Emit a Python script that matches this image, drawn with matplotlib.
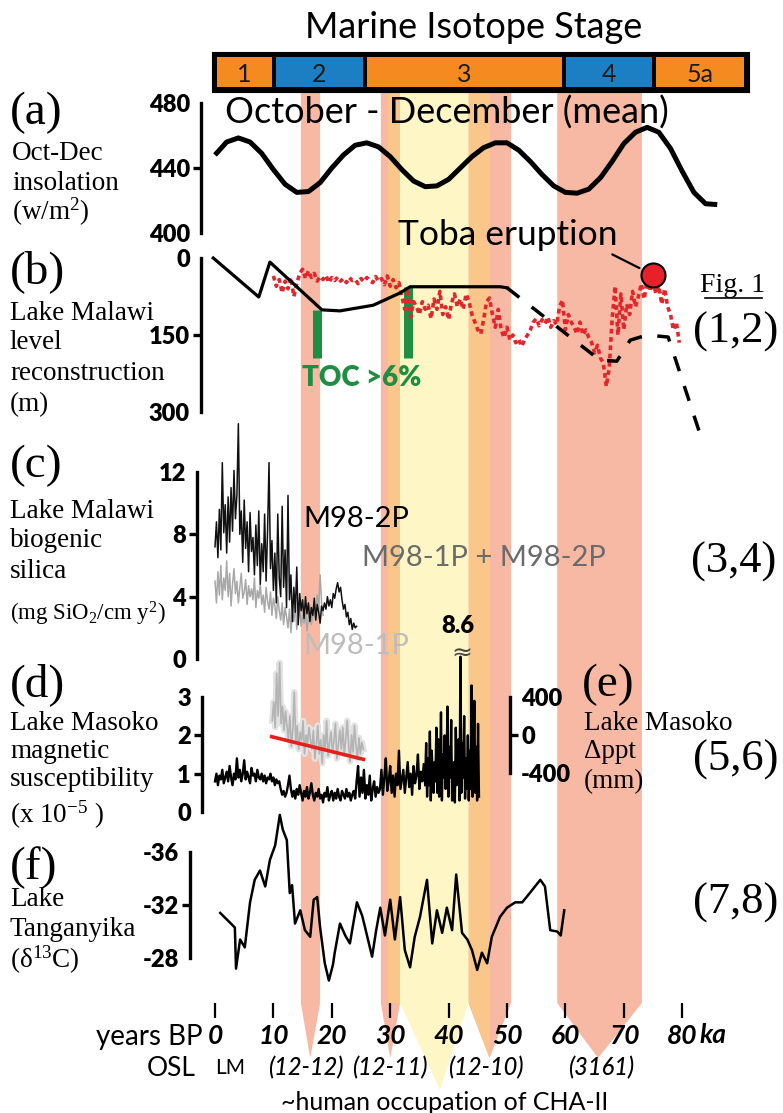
import matplotlib
matplotlib.use("Agg")
import matplotlib.pyplot as plt
from matplotlib.patches import Polygon
from matplotlib.lines import Line2D
import numpy as np

W, H = 783, 1113
PX0, PXK = 215.0, 5.84          # pixel of 0 ka and pixels per ka
XLIM = (-PX0 / PXK, (W - PX0) / PXK)
SANS = "Lato"
SERIF = "Liberation Serif"
plt.rcParams["font.family"] = SANS
plt.rcParams["mathtext.fontset"] = "custom"
plt.rcParams["mathtext.rm"] = SERIF
plt.rcParams["mathtext.it"] = SERIF + ":italic"

# ---------------- data ----------------
mis_edges = [0, 10.1, 25.7, 59.8, 75.2, 91.0]
mis_names = ["1", "2", "3", "4", "5a"]
mis_colors = ["#F58A20", "#1C7FC4", "#F58A20", "#1C7FC4", "#F58A20"]

# shaded bands (ka): left, right, tip position
band_pink = [(14.7, 18.0, 16.3), (28.4, 31.7, 30.0), (43.4, 50.7, 47.0), (58.6, 73.1, 65.6)]
band_orange = [(29.6, 31.7, None), (43.4, 47.1, 47.0)]
band_yellow = [(31.7, 43.4, 38.5)]

# (a) Oct-Dec insolation
insol_ka = [0, 2, 4, 6, 8, 10, 12, 14, 16, 18, 20, 22, 24, 26, 28, 30, 32, 34, 36, 38, 40, 42,
            44, 46, 48, 50, 52, 54, 56, 58, 60, 62, 64, 66, 68, 70, 72, 74, 76, 78, 80, 82, 84, 86]
insol = [448, 456, 458.5, 456, 449, 439, 430, 425, 425.5, 431, 440, 448, 454, 455.5, 453, 447,
         439, 432, 428.5, 429, 433, 440, 447, 452.5, 455.5, 455.5, 451, 444, 436, 429, 425,
         424.5, 427, 434, 444, 455, 462, 465, 462, 452, 438, 425, 418, 417.5]

# (b) Lake Malawi level (m)
lvl_ka = [-0.3, 7.5, 9.4, 18.3, 21.4, 27.1, 31.7, 33.4, 48.8, 50.0]
lvl_m = [0, 76, 8, 101, 103, 92, 68, 56, 56, 58]
lvl2_ka = [50.0, 65.9, 68.8, 71.1, 74.0, 77.6, 83.0]
lvl2_m = [58, 199, 201, 160, 150, 154, 341]
red_m = [35, 55, 42, 68, 45, 60, 38, 75, 50, 30,
         22, 40, 25, 38, 30, 45, 36, 42, 34, 48, 38, 44, 37,
         45, 40, 48, 38, 44, 42, 50, 40, 46, 38, 44, 48, 36, 45,
         40, 52, 35, 55, 42, 58, 48,
         75, 100, 60, 115, 85,
         95, 110, 85, 100, 92, 118,
         80, 100, 65, 110, 95, 120, 88, 70,
         95, 80, 100, 70,
         85, 110, 125, 140, 148, 120,
         85, 78, 110, 135, 100,
         140, 155, 135, 160, 150,
         165, 158, 172, 160, 150, 140,
         125, 118, 132, 120, 128, 115, 135, 122, 130,
         95, 82, 140, 110, 125,
         135, 148, 125, 150, 140, 155,
         165, 185, 170, 195, 205,
         250, 215, 120,
         55, 150, 70, 140, 90,
         110, 65, 95, 75,
         50, 80, 40, 65, 45,
         70, 55, 90, 60, 95,
         110, 140, 125, 165]
red_ka0, red_ka1 = 10.0, 79.5
toba_ka, toba_m = 75.0, 33
toc_ka = [17.55, 33.0]
toc_top = [101, 56]
toc_bottom = 195

# (c) biogenic silica
bsi2 = [7.2, 8.8, 6.5, 9.6, 7.0, 12.6, 8.1,
        9.9, 6.8, 10.4, 7.5, 11.0, 8.2, 12.1, 9.0, 10.5, 15.1,
        8.0, 9.5, 6.2, 10.2, 7.1, 8.8, 5.6, 9.4, 6.9, 7.8, 5.4, 8.6,
        6.0, 9.5, 4.8, 7.4, 5.6, 9.3, 5.0, 8.2, 12.6, 5.8,
        7.6, 4.4, 6.8, 3.6, 9.3, 5.2, 4.0, 9.8, 4.6, 7.0, 3.3, 10.5, 3.8,
        5.4, 2.4, 4.6, 3.0, 5.9, 2.2, 4.2, 3.1, 3.8,
        2.6, 4.0, 2.9, 3.6, 2.4, 3.3, 2.8, 3.9, 2.5, 3.5, 3.0, 2.3, 3.4, 3.1,
        3.6, 3.2, 4.0, 3.4, 3.8, 3.3, 4.2, 3.9, 4.5, 4.9, 4.3, 4.6, 3.8, 3.2,
        3.5, 2.7, 3.0, 2.2, 2.6, 1.9, 2.3, 2.0, 2.1]
bsi2_ka0, bsi2_ka1 = 0.0, 24.25
bsi1 = [5.0, 3.6, 5.6, 4.1, 6.0, 3.8, 5.2, 4.4, 6.3, 4.0, 5.5, 3.4, 4.8,
        5.8, 4.2, 5.0, 3.6, 4.6, 5.5, 3.9, 4.3, 5.1, 3.5, 4.7, 4.0,
        4.5, 3.8, 5.2, 3.3, 4.4, 3.9, 4.8, 3.5, 4.1, 3.0, 4.6, 3.7,
        3.2, 4.3, 2.8, 3.9, 3.4, 2.6, 4.0, 3.1, 2.5, 3.6, 2.2, 3.3,
        2.7, 2.0, 3.2, 1.7, 2.9, 2.4, 3.6, 1.9, 2.6, 3.3, 2.1, 2.8,
        2.3, 3.0, 1.8, 2.6, 3.4, 2.2, 2.9, 3.7, 2.5, 4.1, 3.2, 5.4, 3.6, 2.8]
bsi1_ka0, bsi1_ka1 = 0.0, 18.5

# (d) magnetic susceptibility, 0-36 ka and the noisy 36-45 ka part
msus_a = [0.8, 1.0, 0.7, 0.95, 0.85, 1.1, 0.75, 0.9, 1.05, 0.8, 1.2, 0.9, 0.7, 1.0, 0.85, 1.4,
          0.9, 1.1, 0.8, 1.0, 1.35, 0.85, 1.05, 0.9, 0.75, 1.15, 0.95, 1.0, 0.8, 1.1, 0.9, 0.85,
          1.0, 0.8, 0.95, 0.75, 0.9, 0.85, 1.0, 0.8, 0.9, 0.7, 0.85, 0.75, 0.8,
          0.6, 0.45, 0.55, 0.4,
          0.5, 0.7, 0.95, 0.6, 0.4, 0.55, 0.35, 0.6, 0.45, 0.7, 0.5, 0.3, 0.55, 0.4, 0.65, 0.35,
          0.5, 0.75, 0.45, 0.3, 0.5, 0.4, 0.6, 0.35, 0.45, 0.25, 0.5, 0.4, 0.65, 0.3, 0.45, 0.55,
          0.3, 0.5, 0.35, 0.6, 0.4, 0.3, 0.55, 0.45, 0.35, 0.6, 0.4, 0.5, 0.3, 0.45, 0.55, 0.35,
          0.8, 1.2, 0.4, 0.9, 0.5, 1.1, 0.35, 0.7, 0.45, 0.95, 0.3, 0.6, 0.8, 0.4, 0.65, 0.5,
          0.6, 1.1, 0.45, 0.9, 1.4, 0.55, 0.8, 1.2, 0.5, 0.95, 0.4, 1.0, 0.7, 1.6, 0.6, 0.85,
          1.1, 0.5, 0.9, 1.3, 0.65, 1.0, 0.45, 1.2, 0.75, 0.95, 1.5, 0.6, 1.05, 0.8, 1.25, 0.7]
msus_a_ka0, msus_a_ka1 = 0.0, 36.0
msus_b = [0.9, 1.8, 0.4, 1.4, 0.7, 2.1, 0.3, 1.6, 1.0, 0.5, 1.3, 0.8, 2.2, 0.5, 1.9, 0.4, 1.1,
          2.6, 0.3, 1.5, 0.9, 2.0, 0.6, 1.2, 2.75, 0.4, 1.7, 0.9, 2.4, 0.3, 0.8, 1.3, 0.25, 2.2,
          0.7, 1.0, 1.9, 0.3, 4.05, 0.5, 1.8, 0.9, 2.5, 0.35, 1.4, 0.6, 2.0, 0.3, 1.6, 0.6, 3.3,
          0.4, 1.2, 2.9, 0.5, 1.7, 0.3, 2.3, 0.4]
msus_b_ka0, msus_b_ka1 = 36.0, 45.2

# (e) Lake Masoko delta ppt (mm)
dppt = [150, 350, 80, 650, 200, 760, 120, 300, 50, 250, 100,
        -50, 200, -120, 50, 450, -80, 100, -150, 30, -60, 150, -200, 0, -100, 80, -50,
        -150, 50, -250, -100, 100, -200, -50, -300, 0, -150, 150, -220, -80, 30, -180, -60,
        120, -250, -100, 50,
        -150, 80, -200, -50, 150, -100, -280, 0, -180, 100, -120, -250, -30, -200, -80, -150]
dppt_ka0, dppt_ka1 = 9.8, 25.4
trend_ka = [9.7, 25.4]
trend_ppt = [-18, -256]

# (f) Lake Tanganyika d13C
d13_ka = [0.9, 3.4, 3.6, 4.3, 5.1, 6.0, 6.8, 7.7, 8.6, 9.4, 10.3, 11.1, 11.6, 12.3, 12.8, 13.2,
          13.7, 14.6, 15.4, 16.3, 16.9, 17.5, 18.0, 18.8, 19.5, 20.2, 20.5, 21.4, 22.3, 23.1,
          24.3, 25.2, 25.7, 26.9, 27.6, 28.3, 29.1, 30.0, 30.8, 31.7, 32.5, 33.4, 34.2, 35.1,
          36.3, 37.2, 38.0, 38.9, 39.7, 40.6, 41.3, 42.3, 43.2, 44.0, 44.9, 45.7, 46.6, 47.4,
          48.8, 50.0, 51.4, 52.6, 53.9, 55.7, 56.5, 57.4, 58.6, 59.2, 59.8]
d13 = [-31.4, -30.3, -27.2, -29.4, -28.8, -32.2, -33.9, -34.6, -33.4, -35.4, -36.5, -38.8,
       -37.7, -36.9, -32.9, -33.5, -30.6, -31.6, -30.1, -29.6, -32.4, -32.6, -30.3, -27.6,
       -26.3, -27.5, -28.4, -30.6, -29.7, -29.1, -32.2, -31.2, -30.3, -28.1, -30.1, -31.8,
       -29.7, -32.4, -29.4, -32.6, -28.6, -27.3, -29.6, -31.1, -33.9, -29.1, -31.6, -29.9,
       -31.8, -30.1, -34.3, -29.9, -29.4, -28.6, -27.1, -28.4, -27.6, -29.6, -31.1, -31.8,
       -32.2, -32.2, -32.9, -33.9, -33.4, -30.1, -30.0, -29.7, -31.6]

xticks = [0, 10, 20, 30, 40, 50, 60, 70, 80]
osl_labels = ["LM", "(12-12)", "(12-11)", "(12-10)", "(3161)"]
osl_ka = [2.6, 15.6, 30.0, 46.4, 66.1]

# ---------------- figure ----------------
fig = plt.figure(figsize=(W / 100, H / 100), dpi=100)


def T(x, y, s, **kw):
    kw.setdefault("va", "center")
    return fig.text(x / W, 1 - y / H, s, **kw)


def panel(top, bottom, v1, p1, v2, p2):
    ax = fig.add_axes([0, 1 - bottom / H, 1, (bottom - top) / H])
    s = (p2 - p1) / (v2 - v1)
    ax.set_ylim(v1 + (bottom - p1) / s, v1 + (top - p1) / s)
    ax.set_xlim(*XLIM)
    ax.patch.set_visible(False)
    return ax


def bracket(ax, side, xpos, lo, hi, ticks, labels, fs=17):
    for sp in ax.spines.values():
        sp.set_visible(False)
    sp = ax.spines[side]
    sp.set_visible(True)
    sp.set_position(("data", xpos))
    sp.set_bounds(lo, hi)
    sp.set_linewidth(2.4)
    ax.xaxis.set_visible(False)
    if side == "right":
        ax.yaxis.tick_right()
    else:
        ax.yaxis.tick_left()
    ax.set_yticks(ticks, labels)
    ax.set_yticks([lo, hi], minor=True)
    ax.tick_params(axis="y", which="major", direction="out", length=6, width=2.4,
                   labelsize=fs, pad=2)
    ax.tick_params(axis="y", which="minor", direction="in", length=8, width=2.4)
    for t, loc in zip(ax.yaxis.get_major_ticks(), ticks):
        if loc in (lo, hi):
            t.tick1line.set_visible(False)
            t.tick2line.set_visible(False)
    for lab in ax.get_yticklabels():
        lab.set_fontweight("heavy")


# background axes: bands in ka / pixel coordinates
bg = fig.add_axes([0, 0, 1, 1])
bg.set_xlim(*XLIM)
bg.set_ylim(H, 0)
bg.axis("off")
TOPB, RECTB = 92, 1003


def band(lst, color, tip_y, z, alpha=1.0):
    for l, r, tip in lst:
        if tip is None:
            pts = [(l, TOPB), (r, TOPB), (r, RECTB), (l, RECTB)]
        else:
            pts = [(l, TOPB), (r, TOPB), (r, RECTB), (tip, tip_y), (l, RECTB)]
        bg.add_patch(Polygon(pts, closed=True, fc=color, ec="none", zorder=z, alpha=alpha))


band(band_pink, "#F7B9A3", 1058, 1)
band(band_orange, "#FAC68A", 1058, 2)
band(band_yellow, "#FFF6C0", 1090, 3, alpha=0.92)

# MIS bar
ax_m = fig.add_axes([212 / W, 1 - 92 / H, (749 - 212) / W, 40 / H])
ax_m.set_xlim((212 - PX0) / PXK, (749 - PX0) / PXK)
ax_m.set_ylim(0, 1)
ax_m.set_facecolor("black")
ax_m.set_xticks([])
ax_m.set_yticks([])
for i in range(len(mis_names)):
    l, r = mis_edges[i] + 0.35, mis_edges[i + 1] - 0.35
    ax_m.barh(0.5, r - l, left=l, height=0.74, color=mis_colors[i])
    ax_m.text((l + r) / 2, 0.45, mis_names[i], ha="center", va="center", fontsize=18,
              color="#1a1a1a")
T(474, 28, "Marine Isotope Stage", ha="center", fontsize=26)

# (a)
ax_a = panel(95, 240, 480, 103, 400, 233)
bracket(ax_a, "left", (201 - PX0) / PXK, 400, 480, [400, 440, 480], ["400", "440", "480"])
ax_a.plot(insol_ka, insol, color="black", lw=3.6, solid_capstyle="butt")
T(447, 113, "October - December (mean)", ha="center", fontsize=26)

# (b)
ax_b = panel(238, 440, 0, 258, 300, 412)
bracket(ax_b, "left", (201 - PX0) / PXK, 0, 300, [0, 150, 300], ["0", "150", "300"])
red_ka = np.linspace(red_ka0, red_ka1, len(red_m))
ax_b.plot(red_ka, red_m, color="#E3262B", lw=2.6, ls=(0, (1.3, 1.0)), zorder=3)
ax_b.plot(lvl_ka, lvl_m, color="black", lw=2.3, zorder=4)
ax_b.plot(lvl2_ka, lvl2_m, color="black", lw=2.5, ls=(0, (4.5, 4.5)), zorder=4, clip_on=False)
ax_b.vlines(toc_ka, toc_top, toc_bottom, color="#1E8F42", lw=6.5, zorder=2)
ax_b.scatter([toba_ka], [toba_m], s=300, color="#E8202A", edgecolors="black", lw=1.5, zorder=6)
ax_b.annotate("Toba eruption", xy=(toba_ka, toba_m), xycoords="data",
              xytext=(508 / W, 1 - 235 / H), textcoords="figure fraction",
              ha="center", va="center", fontsize=25.5, annotation_clip=False,
              arrowprops=dict(arrowstyle="-", color="black", lw=1.6,
                              relpos=(0.93, 0.05), shrinkA=1, shrinkB=11))
T(362, 378, "TOC >6%", ha="center", fontsize=20, fontweight="heavy", color="#1E8F42")
T(733, 286, "Fig. 1", ha="center", fontsize=20, family=SERIF)
fig.add_artist(Line2D([705 / W, 762 / W], [1 - 298 / H, 1 - 298 / H], color="black", lw=1.2))
T(736, 332, "(1,2)", ha="center", fontsize=32, family=SERIF)

# (c)
ax_c = panel(412, 665, 12, 472, 0, 659)
bracket(ax_c, "left", (197 - PX0) / PXK, 0, 12, [0, 4, 8, 12], ["0", "4", "8", "12"])
ax_c.plot(np.linspace(bsi1_ka0, bsi1_ka1, len(bsi1)), bsi1, color="#A8A8A8", lw=1.1)
ax_c.plot(np.linspace(bsi2_ka0, bsi2_ka1, len(bsi2)), bsi2, color="#111111", lw=1.1)
T(303, 519, "M98-2P", ha="left", fontsize=21)
T(362, 558, "M98-1P + M98-2P", ha="left", fontsize=21, color="#6B6B6B")
T(303, 646, "M98-1P", ha="left", fontsize=21, color="#BDBDBD")
T(734, 562, "(3,4)", ha="center", fontsize=32, family=SERIF)

# (d) and (e)
ax_d = panel(648, 815, 3, 697, 0, 812)
bracket(ax_d, "left", (202 - PX0) / PXK, 0, 3, [0, 1, 2, 3], ["0", "1", "2", "3"])
ax_e = panel(648, 815, 400, 697, -400, 773)
bracket(ax_e, "right", (510 - PX0) / PXK, -400, 400, [-400, 0, 400], ["-400", "0", "400"])
g_ka = np.linspace(dppt_ka0, dppt_ka1, len(dppt))
ax_e.plot(g_ka, dppt, color="#E2E2E2", lw=4.5, zorder=1)
ax_e.plot(g_ka, dppt, color="#B4B4B4", lw=1.2, zorder=2)
ax_e.plot(trend_ka, trend_ppt, color="#E2201C", lw=2.6, zorder=5)
ax_d.plot(np.linspace(msus_a_ka0, msus_a_ka1, len(msus_a)), msus_a, color="black", lw=1.7,
          zorder=4)
ax_d.plot(np.linspace(msus_b_ka0, msus_b_ka1, len(msus_b)), msus_b, color="black", lw=1.7,
          zorder=4)
T(458, 626, "8.6", ha="center", fontsize=17, fontweight="heavy")
T(462, 654, "≈", ha="center", fontsize=18, family="DejaVu Sans", color="#444444")
T(736, 760, "(5,6)", ha="center", fontsize=32, family=SERIF)

# (f)
ax_f = panel(800, 995, -36, 852, -28, 958)
bracket(ax_f, "left", (190 - PX0) / PXK, -36, -28, [-36, -32, -28], ["-36", "-32", "-28"])
ax_f.plot(d13_ka, d13, color="black", lw=1.8)
T(736, 903, "(7,8)", ha="center", fontsize=32, family=SERIF)

# bottom axis
ax_x = fig.add_axes([0, 1 - 1018 / H, 1, 15 / H])
ax_x.set_xlim(*XLIM)
ax_x.patch.set_visible(False)
for sp in ax_x.spines.values():
    sp.set_visible(False)
ax_x.yaxis.set_visible(False)
ax_x.set_xticks(xticks, [str(v) for v in xticks])
ax_x.tick_params(axis="x", direction="in", length=11, width=1.6, pad=4, labelsize=19)
for lab in ax_x.get_xticklabels():
    lab.set_fontweight("bold")
    lab.set_fontstyle("italic")
T(203, 1037, "years BP", ha="right", fontsize=20)
bg.text(85.3, 1035, "ka", ha="center", va="center", fontsize=19, fontweight="bold",
        fontstyle="italic")
T(171, 1068, "OSL", ha="center", fontsize=19)
for s, k in zip(osl_labels, osl_ka):
    bg.text(k, 1068, s, ha="center", va="center", fontsize=17 if s != "LM" else 15,
            fontstyle="normal" if s == "LM" else "italic",
            fontweight="normal" if s == "LM" else "medium")
T(445, 1102, "~human occupation of CHA-II", ha="center", fontsize=18)

# left labels
lab_kw = dict(ha="left", family=SERIF)
T(10, 113, "(a)", fontsize=34, **lab_kw)
for y, s in zip([153, 183, 212], ["Oct-Dec", "insolation", r"(w/m$^2$)"]):
    T(12, y, s, fontsize=19.5, **lab_kw)
T(10, 272, "(b)", fontsize=34, **lab_kw)
for y, s in zip([313, 343, 373, 405], ["Lake Malawi", "level", "reconstruction", "(m)"]):
    T(10, y, s, fontsize=19.5, **lab_kw)
T(10, 466, "(c)", fontsize=34, **lab_kw)
for y, s in zip([511, 541, 571], ["Lake Malawi", "biogenic", "silica"]):
    T(10, y, s, fontsize=19.5, **lab_kw)
T(10, 614, r"(mg SiO$_2$/cm y$^2$)", fontsize=16.5, **lab_kw)
T(10, 685, "(d)", fontsize=34, **lab_kw)
for y, s in zip([723, 752, 780, 815], ["Lake Masoko", "magnetic", "susceptibility",
                                      r"(x 10$^{-5}$ )"]):
    T(10, y, s, fontsize=19.5, **lab_kw)
T(582, 685, "(e)", fontsize=34, **lab_kw)
for y, s in zip([723, 752, 782], ["Lake Masoko", "Δppt", "(mm)"]):
    T(584, y, s, fontsize=19.5, **lab_kw)
T(10, 868, "(f)", fontsize=34, **lab_kw)
for y, s in zip([900, 930, 960], ["Lake", "Tanganyika", r"(δ$^{13}$C)"]):
    T(10, y, s, fontsize=19.5, **lab_kw)

fig.savefig("out.png", dpi=100)
